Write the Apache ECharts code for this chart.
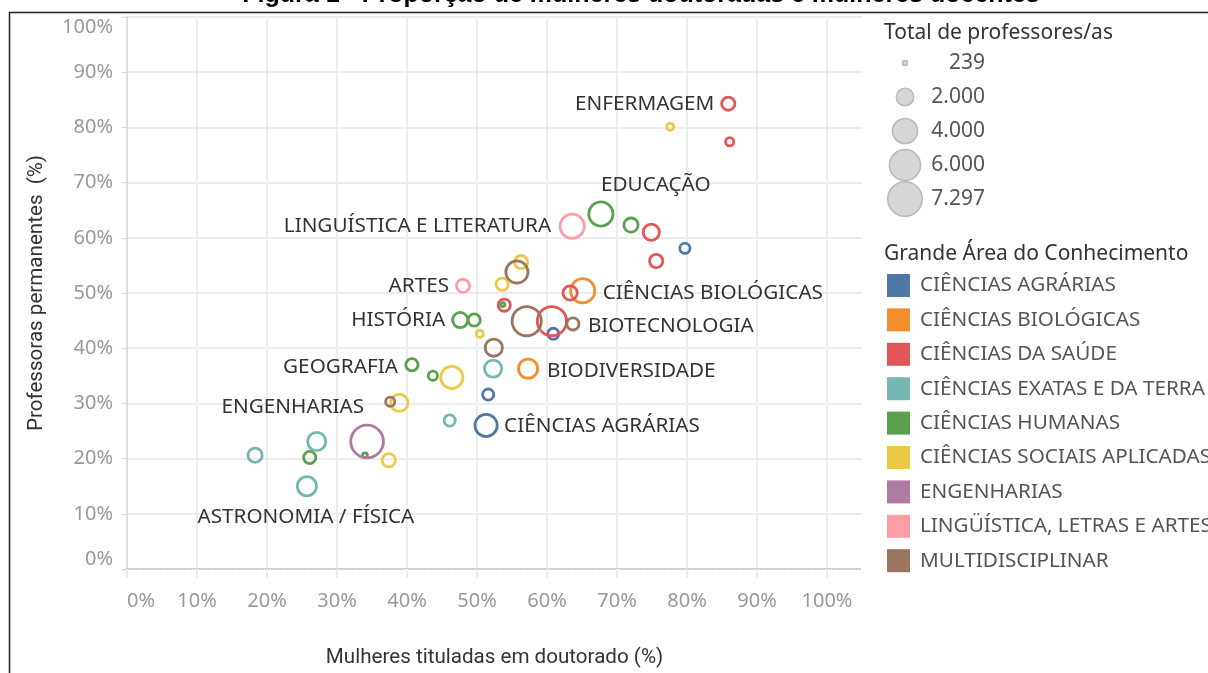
<!DOCTYPE html>
<html><head><meta charset="utf-8">
<script src="https://cdn.jsdelivr.net/npm/echarts@6/dist/echarts.min.js"></script>
<style>html,body{margin:0;padding:0;background:#fff}#c{width:1208px;height:673px}</style>
</head><body><div id="c"></div>
<script>
// ---------- DATA ----------
const categories = ['CIÊNCIAS AGRÁRIAS','CIÊNCIAS BIOLÓGICAS','CIÊNCIAS DA SAÚDE','CIÊNCIAS EXATAS E DA TERRA','CIÊNCIAS HUMANAS','CIÊNCIAS SOCIAIS APLICADAS','ENGENHARIAS','LINGÜÍSTICA, LETRAS E ARTES','MULTIDISCIPLINAR'];
const colors = ['#4e79a7','#f28e2b','#e15759','#76b7b2','#59a14f','#edc948','#b07aa1','#ff9da7','#9c755f'];
// [mulheres tituladas em doutorado %, professoras permanentes %, total de professores/as]
const agrarias = [[79.7,58.1,950],[60.9,42.6,1100],[51.6,31.6,1100],[51.3,26.0,3520]];
const agrariasNames = ['','','','CIÊNCIAS AGRÁRIAS'];
const biologicas = [[65.1,50.4,4100],[57.3,36.3,2720]];
const biologicasNames = ['CIÊNCIAS BIOLÓGICAS','BIODIVERSIDADE'];
const saude = [[85.9,84.3,1440],[86.1,77.4,680],[74.9,61.0,2030],[75.6,55.8,1440],[63.3,50.0,1630],[53.9,47.8,1270],[60.7,44.9,5770]];
const saudeNames = ['ENFERMAGEM','','','','','',''];
const exatas = [[52.3,36.3,2250],[46.1,26.9,1100],[27.1,23.1,2480],[18.3,20.6,1630],[25.7,15.0,2720]];
const exatasNames = ['','','','','ASTRONOMIA / FÍSICA'];
const humanas = [[67.7,64.3,4100],[72.0,62.3,1630],[47.6,45.1,1820],[49.6,45.1,1270],[53.7,47.9,260],[40.7,37.0,1270],[43.7,35.0,810],[34.0,20.6,330],[26.1,20.2,1270]];
const humanasNames = ['EDUCAÇÃO','','HISTÓRIA','','','GEOGRAFIA','','',''];
const sociais = [[77.6,80.1,560],[56.3,55.6,1440],[53.6,51.6,1270],[50.4,42.6,560],[46.4,34.7,3520],[38.9,30.1,2250],[37.4,19.7,1440]];
const sociaisNames = ['','','','','','',''];
const engenharias = [[34.3,23.1,7100]];
const engenhariasNames = ['ENGENHARIAS'];
const linguistica = [[63.6,62.1,4100],[48.0,51.3,1440]];
const linguisticaNames = ['LINGUÍSTICA E LITERATURA','ARTES'];
const multi = [[55.7,53.8,3520],[57.1,44.9,5770],[63.7,44.4,1270],[52.4,40.1,2250],[37.6,30.3,810]];
const multiNames = ['','','BIOTECNOLOGIA','',''];

const xTicks = [0,10,20,30,40,50,60,70,80,90,100];
const yTicks = [0,10,20,30,40,50,60,70,80,90,100];
const sizeLegendValues = [239,2000,4000,6000,7297];
const sizeLegendLabels = ['239','2.000','4.000','6.000','7.297'];

// ---------- LAYOUT / STYLE ----------
const seriesData = [agrarias,biologicas,saude,exatas,humanas,sociais,engenharias,linguistica,multi];
const seriesNames = [agrariasNames,biologicasNames,saudeNames,exatasNames,humanasNames,sociaisNames,engenhariasNames,linguisticaNames,multiNames];
const labelLayout = {
  'ENFERMAGEM':{align:'right',dx:-14,dy:0},
  'EDUCAÇÃO':{align:'left',dx:0,dy:-29},
  'LINGUÍSTICA E LITERATURA':{align:'right',dx:-21,dy:0},
  'ARTES':{align:'right',dx:-14,dy:0},
  'HISTÓRIA':{align:'right',dx:-15,dy:0},
  'CIÊNCIAS BIOLÓGICAS':{align:'left',dx:20,dy:2},
  'BIOTECNOLOGIA':{align:'left',dx:15,dy:2},
  'GEOGRAFIA':{align:'right',dx:-14,dy:2},
  'BIODIVERSIDADE':{align:'left',dx:19,dy:2},
  'ENGENHARIAS':{align:'right',dx:-3,dy:-34},
  'CIÊNCIAS AGRÁRIAS':{align:'left',dx:18,dy:1},
  'ASTRONOMIA / FÍSICA':{align:'center',dx:-1,dy:31}
};
const MAXV = 7297, MAXD = 36, RING = 2.8;
const outerD = v => MAXD*Math.sqrt(v/MAXV);
const FONT = '"Noto Sans", sans-serif';

const series = seriesData.map((arr,i)=>({
  name: categories[i],
  type:'scatter',
  data: arr.map((p,j)=>{
    const nm = seriesNames[i][j];
    const item = {value:p, name:nm};
    if (nm) {
      const L = labelLayout[nm];
      item.label = {show:true, position:'inside', align:L.align, verticalAlign:'middle',
        offset:[L.dx,L.dy], formatter:nm, color:'#333', fontSize:20.7, fontFamily:FONT};
    }
    return item;
  }),
  symbol:'circle',
  symbolSize: v => Math.max(outerD(v[2]) - RING, 1),
  itemStyle:{color:'rgba(255,255,255,0)', borderColor:colors[i], borderWidth:RING, opacity:1},
  label:{show:false},
  emphasis:{disabled:true},
  z: 3
}));

const graphic = [
  {type:'polyline', shape:{points:[[9.5,673],[9.5,12.5],[1208,12.5]]}, style:{stroke:'#222', lineWidth:1.5, fill:null}, silent:true},
  {type:'text', x:641, y:-5, style:{text:'Figura 1 - Proporção de mulheres doutoradas e mulheres docentes', font:'bold 25px "Liberation Sans", Arial, sans-serif', fill:'#000', align:'center', verticalAlign:'middle'}},
  {type:'text', x:884, y:33, style:{text:'Total de professores/as', font:'21px '+FONT, fill:'#333', align:'left', verticalAlign:'middle'}},
  {type:'text', x:884, y:254, style:{text:'Grande Área do Conhecimento', font:'21px '+FONT, fill:'#333', align:'left', verticalAlign:'middle'}}
];
const sizeY = [63,97,131,165,199];
sizeLegendValues.forEach((v,i)=>{
  graphic.push({type:'circle', shape:{cx:905, cy:sizeY[i], r:(outerD(v)-1.5)/2}, style:{fill:'#d6d6d6', stroke:'#b8b8b8', lineWidth:1.5}});
  graphic.push({type:'text', x:985, y:sizeY[i], style:{text:sizeLegendLabels[i], font:'21px '+FONT, fill:'#555', align:'right', verticalAlign:'middle'}});
});

const option = {
  backgroundColor:'#fff',
  animation:false,
  textStyle:{fontFamily:FONT},
  grid:{left:127, top:17, width:735, height:554, containLabel:false},
  xAxis:{
    type:'value', min:0, max:105, interval:10,
    name:'Mulheres tituladas em doutorado (%)', nameLocation:'middle', nameGap:78,
    nameTextStyle:{fontFamily:'Roboto, sans-serif', fontSize:20.6, color:'#333'},
    axisLine:{show:true, onZero:false, lineStyle:{color:'#bbb', type:'dotted', width:1.5}},
    axisTick:{show:true, customValues:xTicks, length:9, lineStyle:{color:'#ececec', width:2}},
    axisLabel:{customValues:xTicks, formatter:v=>v+'%', color:'#999', fontSize:20, fontFamily:FONT, margin:22, alignMinLabel:'left'},
    splitLine:{show:true, lineStyle:{color:'#ececec', width:2}, showMinLine:false}
  },
  yAxis:{
    type:'value', min:0, max:100, interval:10,
    name:'Professoras permanentes  (%)', nameLocation:'middle', nameGap:80,
    nameTextStyle:{fontFamily:'Roboto, sans-serif', fontSize:20.6, color:'#333'},
    axisLine:{show:true, lineStyle:{color:'#d4d4d4', width:1.5}},
    axisTick:{show:true, customValues:yTicks, length:5, lineStyle:{color:'#d4d4d4', width:1}},
    axisLabel:{customValues:yTicks, formatter:v=>v+'%', color:'#999', fontSize:20, fontFamily:FONT, margin:14, verticalAlignMaxLabel:'top', verticalAlignMinLabel:'bottom'},
    splitLine:{show:true, lineStyle:{color:'#ececec', width:2}, showMinLine:false}
  },
  legend:{
    orient:'vertical', left:887, top:274, padding:0, itemWidth:23, itemHeight:23, itemGap:11.4,
    icon:'rect', selectedMode:false,
    textStyle:{fontSize:20.7, color:'#555', fontFamily:FONT, padding:[0,0,0,5]},
    data: categories.map((c,i)=>({name:c, itemStyle:{color:colors[i], borderWidth:0, opacity:1}}))
  },
  graphic: graphic,
  series: series
};
const chart = echarts.init(document.getElementById('c'), null, {renderer:'canvas'});
chart.setOption(option);
</script></body></html>
